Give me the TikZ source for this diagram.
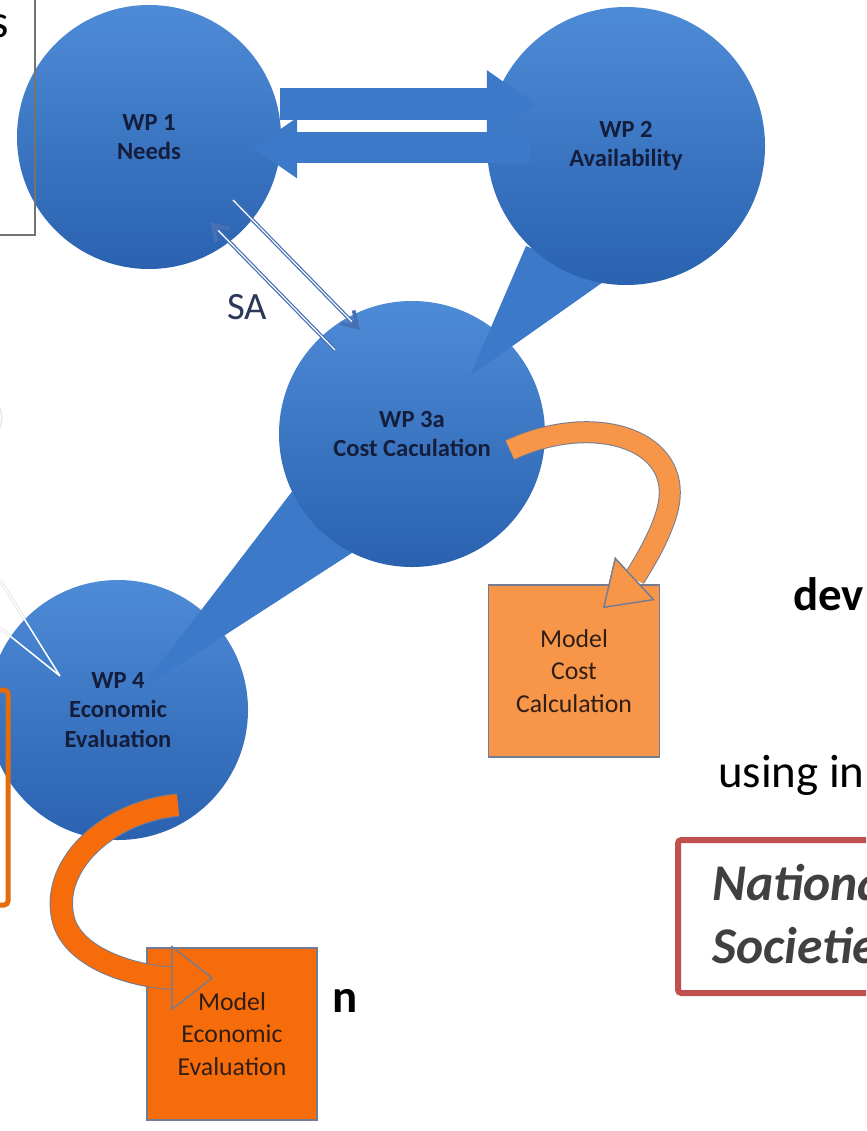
\documentclass[tikz,border=0pt]{standalone}
\usepackage{fontspec}
\setmainfont{Carlito}
\usetikzlibrary{arrows.meta,calc}

\definecolor{wptop}{RGB}{78,139,214}
\definecolor{wpbot}{RGB}{42,98,176}
\definecolor{wpflat}{RGB}{60,121,201}
\definecolor{wptext}{RGB}{20,30,60}
\definecolor{sablue}{RGB}{70,112,180}
\definecolor{satext}{RGB}{44,56,88}
\definecolor{orlight}{RGB}{247,150,72}
\definecolor{ordark}{RGB}{246,108,10}
\definecolor{oredge}{RGB}{116,124,146}
\definecolor{modeltext}{RGB}{48,30,22}
\definecolor{frameor}{RGB}{228,108,10}
\definecolor{framered}{RGB}{192,80,77}
\definecolor{slidegray}{RGB}{64,64,64}

\begin{document}
\begin{tikzpicture}[x=0.03cm,y=-0.03cm,
    wp/.style={circle,minimum size=#1,inner sep=0pt,top color=wptop,bottom color=wpbot,
               text=wptext,align=center,font=\bfseries\fontsize{21}{25}\selectfont},
    model/.style={draw=oredge,line width=0.045cm,minimum height=5.16cm,minimum width=5.14cm,
                  align=center,text=modeltext,font=\fontsize{22}{28}\selectfont},
    bar/.style={draw=wpflat,line width=#1},
    sa/.style={draw=sablue,line width=0.11cm,-{Straight Barb[length=0.45cm,width=0.55cm]}},
    slide/.style={anchor=base west,inner sep=0pt,font=\fontsize{40}{40}\selectfont}]
    \useasboundingbox (0,0) rectangle (866,1131);
    \clip (0,0) rectangle (866,1131);

    % slide text around the chart
    \path[draw=framered,line width=0.18cm,rounded corners=0.1cm] (678,840) rectangle (920,993);
    \path[draw=black!8,line width=0.05cm] (-20,392) .. controls (9,400) and (9,435) .. (-20,446);

    \node[slide,anchor=base east] (tl) at (9,38) {s};
    \node[slide,font=\bfseries\fontsize{40}{40}\selectfont] (dev) at (793,610) {dev};
    \node[slide] (using) at (718,787) {using in};
    \node[slide,font=\bfseries\fontsize{40}{40}\selectfont] (bn) at (332,1012) {n};
    \foreach \n/\y/\t in {nat1/900/Nationa, nat2/963/Societie}
        \node[slide,text=slidegray,font=\bfseries\itshape\fontsize{44}{44}\selectfont] (\n) at (712,\y) {\t};

    \coordinate (c2) at (626,146);
    \coordinate (c3) at (412,434);
    \coordinate (c4) at (118,710);

    \path[draw=black!12,line width=0.09cm] (0,580) -- (60,676) (0,628) -- (60,676);

    \node[wp=7.8cm] (wp4) at (c4) {WP 4\\Economic\\Evaluation};
    \path[fill=wpflat] ($(c3)+(-92,21)$) -- ($(c4)+(22,-20)$) -- ($(c3)+(-40,106)$) -- cycle;
    \node[wp=7.98cm] (wp3a) at (c3) {WP 3a\\Cost Caculation};
    \path[fill=wpflat] ($(c2)+(-100,100)$) -- ($(c3)+(58,-58)$) -- ($(c2)+(-20,134)$) -- cycle;
    \node[wp=8.34cm] (wp2) at (c2) {WP 2\\Availability};
    \node[wp=7.92cm] (wp1) at (149,137) {WP 1\\Needs};

    \path[draw=white,line width=0.045cm] (0,580) -- (60,676) (0,628) -- (60,676);
    \path[draw=black!55,line width=0.05cm] (-20,-20) rectangle (35,235);
    \path[draw=frameor,line width=0.15cm,rounded corners=0.12cm] (-40,690) rectangle (8,905);

    \draw[bar=0.96cm,-{Triangle[length=1.44cm,width=2.04cm,line width=0pt]}]
        ($(wp1.east)+(-1,-33)$) -- ($(wp2.west)+(48,-42)$);
    \draw[bar=0.93cm,-{Triangle[length=1.32cm,width=1.83cm,line width=0pt]}]
        ($(wp2.west)+(43,2)$) -- ($(wp1.east)+(-28,11)$);

    \draw[sa] ($(wp3a)+(-77,-84)$) -- ($(wp1)+(61,85)$);
    \draw[sa] ($(wp1)+(84,63)$) -- ($(wp3a)+(-52,-104)$);
    \draw[white,line width=0.035cm,shorten >=0.35cm] ($(wp3a)+(-77,-84)$) -- ($(wp1)+(61,85)$);
    \draw[white,line width=0.035cm,shorten >=0.35cm] ($(wp1)+(84,63)$) -- ($(wp3a)+(-52,-104)$);
    \node[text=satext,font=\fontsize{33}{33}\selectfont] (sa) at (247,307) {SA};

    \node[model,fill=orlight] (mcc) at (574,671) {Model\\Cost\\Calculation};
    \node[model,fill=ordark,minimum width=5.1cm] (mee) at (232,1034) {Model\\Economic\\Evaluation};

    \draw[draw=oredge,line width=0.66cm,-{Triangle[length=1.3cm,width=1.75cm,line width=0pt]}]
        ($(wp3a)+(98,16)$) .. controls (595,410) and (690,440) .. (666,515)
        .. controls (655,550) and (630,583) .. ($(mcc)+(29,-63)$);
    \draw[draw=orlight,line width=0.6cm,
          -{Triangle[length=1.3cm,width=1.75cm,line width=0.04cm,color=oredge,fill=orlight]}]
        ($(wp3a)+(98,16)$) .. controls (595,410) and (690,440) .. (666,515)
        .. controls (655,550) and (630,583) .. ($(mcc)+(29,-63)$);

    \draw[draw=oredge,line width=0.7cm,-{Triangle[length=1.25cm,width=1.95cm,line width=0pt]}]
        ($(wp4)+(60,95)$) .. controls (105,812) and (48,868) .. (64,922)
        .. controls (78,965) and (150,978) .. ($(mee)+(-19,-56)$);
    \draw[draw=ordark,line width=0.64cm,
          -{Triangle[length=1.25cm,width=1.95cm,line width=0.04cm,color=oredge,fill=ordark]}]
        ($(wp4)+(60,95)$) .. controls (105,812) and (48,868) .. (64,922)
        .. controls (78,965) and (150,978) .. ($(mee)+(-19,-56)$);

\end{tikzpicture}
\end{document}
